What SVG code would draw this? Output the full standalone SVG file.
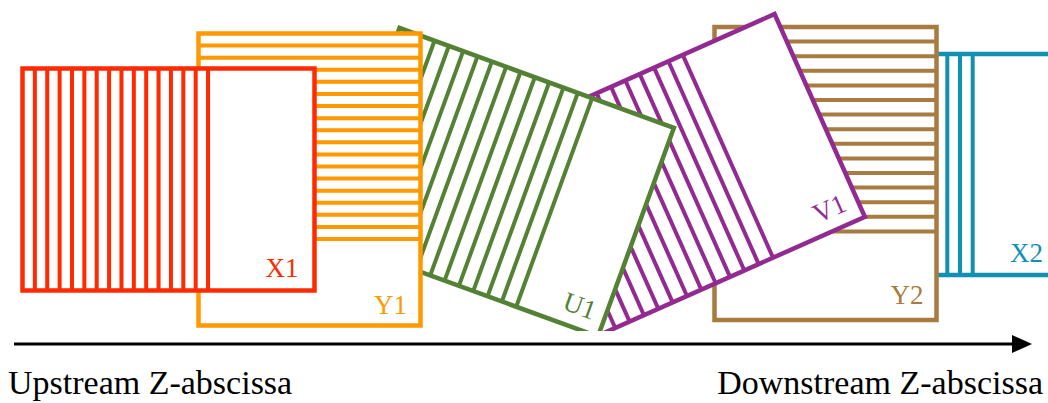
<svg xmlns="http://www.w3.org/2000/svg" width="1048" height="403" viewBox="0 0 1048 403">
<style>
.box{fill:#fff;stroke-width:4.5}
.hatch{fill:none;stroke-width:4}
.lbl{font-family:"Liberation Serif","Times New Roman",serif;font-size:27px}
.axis-t{font-family:"Liberation Serif","Times New Roman",serif;font-size:34px;fill:#000}
.cX1{stroke:#FF2A00}.fX1{fill:#FF2A00}
.cY1{stroke:#FF9900}.fY1{fill:#FF9900}
.cU1{stroke:#548235}.fU1{fill:#548235}
.cV1{stroke:#932A92}.fV1{fill:#932A92}
.cY2{stroke:#A87B40}.fY2{fill:#A87B40}
.cX2{stroke:#1190B2}.fX2{fill:#1190B2}
</style>
<defs>
<clipPath id="clipB" clipPathUnits="userSpaceOnUse"><rect x="0" y="0" width="1048" height="331"/></clipPath>
</defs>
<rect width="1048" height="403" fill="#fff"/>

<g id="X2">
<rect class="box cX2" x="787" y="54" width="292" height="221"/>
<path class="hatch cX2" d="M972.7 54v221m-12.7-221v221m-12.7-221v221m-12.7-221v221m-12.7-221v221m-12.7-221v221m-12.7-221v221m-12.7-221v221m-12.7-221v221m-12.7-221v221m-12.7-221v221m-12.7-221v221m-12.7-221v221m-12.7-221v221m-12.7-221v221"/>
<text class="lbl fX2" x="1043" y="262" text-anchor="end">X2</text>
</g>

<g id="Y2">
<rect class="box cY2" x="714.5" y="27" width="222" height="293"/>
<path class="hatch cY2" d="M714.5 41.6h222m-222 14.6h222m-222 14.6h222m-222 14.6h222m-222 14.6h222m-222 14.6h222m-222 14.6h222m-222 14.6h222m-222 14.6h222m-222 14.6h222m-222 14.6h222m-222 14.6h222m-222 14.6h222m-222 14.6h222"/>
<text class="lbl fY2" x="923.5" y="303.5" text-anchor="end">Y2</text>
</g>

<g id="V1" clip-path="url(#clipB)">
<g transform="translate(507.8,132.8) rotate(-24)">
<rect class="box cV1" x="0" y="0" width="292" height="222"/>
<path class="hatch cV1" d="M191.5 0v222m-15.7-222v222m-15.7-222v222m-15.7-222v222m-15.7-222v222m-15.7-222v222m-15.7-222v222m-15.7-222v222m-15.7-222v222m-15.7-222v222m-15.7-222v222m-15.7-222v222m-15.7-222v222"/>
<text class="lbl fV1" x="279.5" y="209" text-anchor="end">V1</text>
</g>
</g>

<g id="U1" clip-path="url(#clipB)">
<g transform="translate(399.5,28) rotate(20)">
<rect class="box cU1" x="0" y="0" width="292" height="222"/>
<path class="hatch cU1" d="M205 0v222m-15.25-222v222m-15.25-222v222m-15.25-222v222m-15.25-222v222m-15.25-222v222m-15.25-222v222m-15.25-222v222m-15.25-222v222m-15.25-222v222m-15.25-222v222m-15.25-222v222m-15.25-222v222m-15.25-222v222"/>
<text class="lbl fU1" x="281" y="208.5" text-anchor="end">U1</text>
</g>
</g>

<g id="Y1">
<rect class="box cY1" x="198.5" y="33.5" width="222" height="292"/>
<path class="hatch cY1" d="M198.5 45.59h222m-222 12.09h222m-222 12.09h222m-222 12.09h222m-222 12.09h222m-222 12.09h222m-222 12.09h222m-222 12.09h222m-222 12.09h222m-222 12.09h222m-222 12.09h222m-222 12.09h222m-222 12.09h222m-222 12.09h222m-222 12.09h222m-222 12.09h222m-222 12.09h222"/>
<text class="lbl fY1" x="407" y="313.5" text-anchor="end">Y1</text>
</g>

<g id="X1">
<rect class="box cX1" x="22.5" y="68.5" width="292" height="222"/>
<path class="hatch cX1" d="M34.87 68.5v222m12.37-222v222m12.37-222v222m12.37-222v222m12.37-222v222m12.37-222v222m12.37-222v222m12.37-222v222m12.37-222v222m12.37-222v222m12.37-222v222m12.37-222v222m12.37-222v222m12.37-222v222m12.37-222v222"/>
<text class="lbl fX1" x="298.5" y="277" text-anchor="end">X1</text>
</g>

<g id="connectors">
<line x1="14" y1="344" x2="1014" y2="344" stroke="#000" stroke-width="3.2"/>
<polygon points="1012,335 1032,344 1012,353" fill="#000"/>
<text class="axis-t" x="8" y="394">Upstream Z-abscissa</text>
<text class="axis-t" x="1043" y="394" text-anchor="end">Downstream Z-abscissa</text>
</g>
</svg>
